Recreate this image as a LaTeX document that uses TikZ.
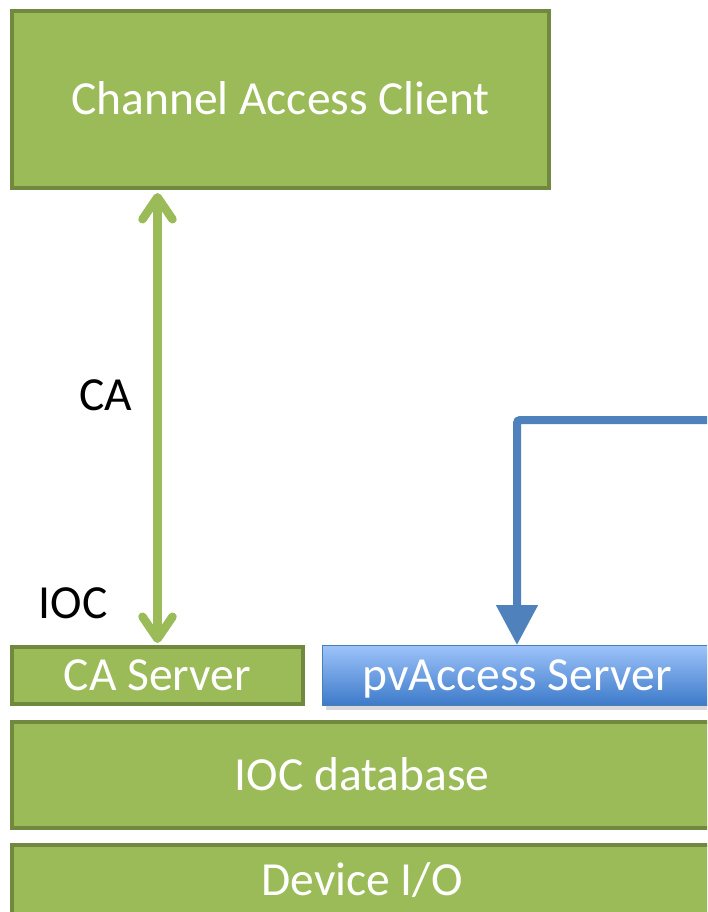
\documentclass[tikz,border=0pt]{standalone}
\usepackage{fontspec}
\setmainfont{Carlito}
\usetikzlibrary{arrows.meta,shadows}

\definecolor{layerfill}{HTML}{9BBB59}
\definecolor{layeredge}{HTML}{71893F}
\definecolor{pvline}{HTML}{4F81BD}
\definecolor{pvtop}{HTML}{9DC3FA}
\definecolor{pvbot}{HTML}{3D7AC9}
\definecolor{pvedge}{HTML}{4A7EBB}

\tikzset{
  bigtext/.style={font=\fontsize{47.5}{56}\selectfont, text height=36pt, text depth=6pt, inner sep=0pt},
  layer/.style={rectangle, bigtext, fill=layerfill, draw=layeredge, line width=4pt, text=white},
  pvbox/.style={rectangle, bigtext, top color=pvtop, bottom color=pvbot, draw=pvedge,
    line width=1pt, text=white,
    drop shadow={shadow xshift=3pt, shadow yshift=-4pt, opacity=0.3}},
  lbl/.style={bigtext, text=black},
  cahead/.tip={Straight Barb[length=22pt, width=30pt, round]},
  caflow/.style={draw=layerfill, line width=8.5pt, cahead-cahead},
  pvflow/.style={draw=pvline, line width=8pt, rounded corners=3pt,
    -{Triangle[length=40pt, width=40pt]}},
}

\begin{document}
\begin{tikzpicture}[x=1pt, y=-1pt]
  \useasboundingbox (0,0) rectangle (707,912);
  \clip (0,0) rectangle (707,912);

  % client on top
  \node[layer, minimum width=537pt, minimum height=177pt] (client) at (280.5,99.5) {Channel Access Client};

  % IOC layers
  \node[layer, minimum width=291pt, minimum height=57pt] (caserver) at (157.5,675.5) {CA Server};
  \node[pvbox, minimum width=389pt, minimum height=60pt] (pvserver) at (517,675.5) {pvAccess Server};
  \node[layer, minimum width=700pt, minimum height=106pt] (iocdb) at (362,775) {IOC database};
  \node[layer, minimum width=700pt, minimum height=72pt] (devio) at (362,880.5) {Device I/O};

  % labels
  \node[lbl] (calabel) at (106,395) {CA};
  \node[lbl] (ioclabel) at (73,603) {IOC};

  % Channel Access link
  \coordinate (catop) at ([yshift=-3pt]caserver.north |- client.south);
  \draw[caflow] (catop) -- ([yshift=2pt]caserver.north);

  % pvAccess link entering from the right
  \coordinate (pvin) at (720,420);
  \draw[pvflow] (pvin) -- (pvserver.north |- pvin) -- (pvserver.north);
\end{tikzpicture}
\end{document}
